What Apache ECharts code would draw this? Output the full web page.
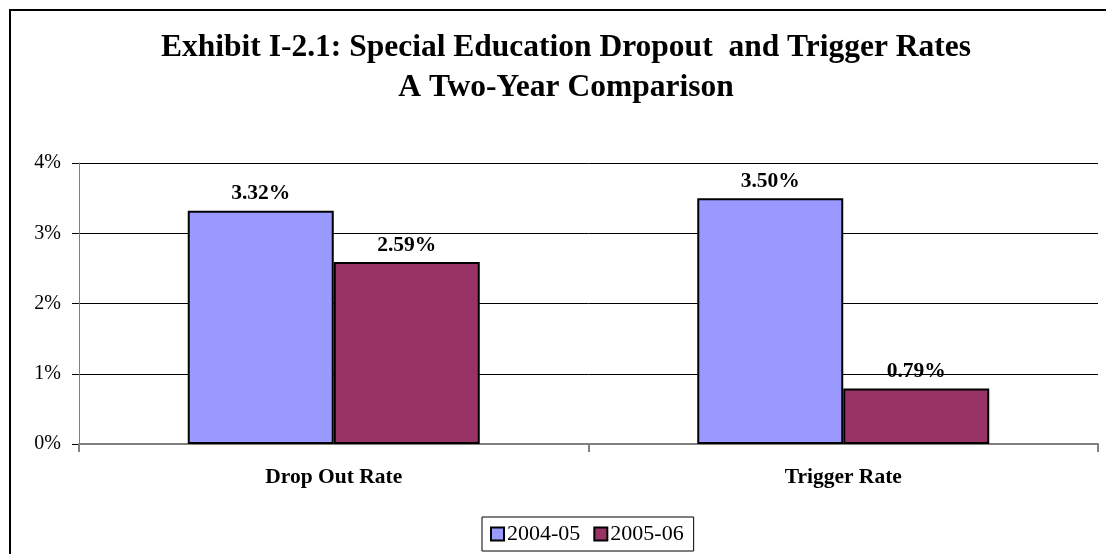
<!DOCTYPE html>
<html>
<head>
<meta charset="utf-8">
<script src="https://cdn.jsdelivr.net/npm/echarts@6/dist/echarts.min.js"></script>
<style>
  html, body { margin: 0; padding: 0; background: #fff; }
  #chart { width: 1106px; height: 554px; }
</style>
</head>
<body>
<div id="chart"></div>
<script>
// Rates per category, in percent
const categories = ['Drop Out Rate', 'Trigger Rate'];
const years = ['2004-05', '2005-06'];
const rates2004 = [3.32, 3.50];
const rates2005 = [2.59, 0.79];
const yTicks = [0, 1, 2, 3, 4];

const serif = '"Liberation Serif", "Times New Roman", serif';
const colors = ['#9999FF', '#993366'];

function barSeries(name, values, color) {
  return {
    name: name,
    type: 'bar',
    data: values,
    barWidth: 146,
    barGap: '0%',
    itemStyle: { color: color, borderColor: '#000', borderWidth: 2 },
    label: {
      show: true,
      position: 'top',
      distance: 6,
      formatter: p => p.value.toFixed(2) + '%',
      fontFamily: serif,
      fontWeight: 'bold',
      fontSize: 21.5,
      color: '#000'
    }
  };
}

const chart = echarts.init(document.getElementById('chart'), null, { renderer: 'canvas' });
chart.setOption({
  animation: false,
  backgroundColor: '#fff',
  title: {
    text: 'Exhibit I-2.1: Special Education Dropout  and Trigger Rates\nA Two-Year Comparison',
    left: 561,
    top: 23,
    textAlign: 'center',
    textStyle: {
      fontFamily: serif,
      fontWeight: 'bold',
      fontSize: 31.5,
      lineHeight: 40,
      color: '#000'
    }
  },
  graphic: [{
    type: 'rect',
    shape: { x: 10, y: 10, width: 1120, height: 560 },
    style: { fill: 'none', stroke: '#000', lineWidth: 2 },
    silent: true
  }],
  legend: {
    data: years,
    left: 482,
    top: 517,
    padding: [6, 10, 6, 8],
    borderColor: '#000',
    borderWidth: 1,
    itemWidth: 13,
    itemHeight: 13,
    itemGap: 13,
    icon: 'rect',
    textStyle: { fontFamily: serif, fontSize: 22, color: '#000', padding: [0, 0, 0, -2] }
  },
  grid: { left: 79, right: 8, top: 163, bottom: 110, containLabel: false },
  xAxis: {
    type: 'category',
    data: categories,
    axisLine: { lineStyle: { color: '#808080', width: 2 } },
    axisTick: { show: true, length: 8, lineStyle: { color: '#808080', width: 2 } },
    axisLabel: {
      margin: 22,
      fontFamily: serif,
      fontWeight: 'bold',
      fontSize: 21.5,
      color: '#000'
    },
    splitLine: { show: false }
  },
  yAxis: {
    type: 'value',
    min: yTicks[0],
    max: yTicks[yTicks.length - 1],
    interval: 1,
    axisLine: { show: true, lineStyle: { color: '#808080', width: 1 } },
    axisTick: { show: true, length: 7, lineStyle: { color: '#000' } },
    axisLabel: {
      margin: 18,
      formatter: v => v + '%',
      fontFamily: serif,
      fontSize: 20,
      color: '#000'
    },
    splitLine: { lineStyle: { color: '#000', width: 1 } }
  },
  series: [
    barSeries(years[0], rates2004, colors[0]),
    barSeries(years[1], rates2005, colors[1])
  ]
});
</script>
</body>
</html>
